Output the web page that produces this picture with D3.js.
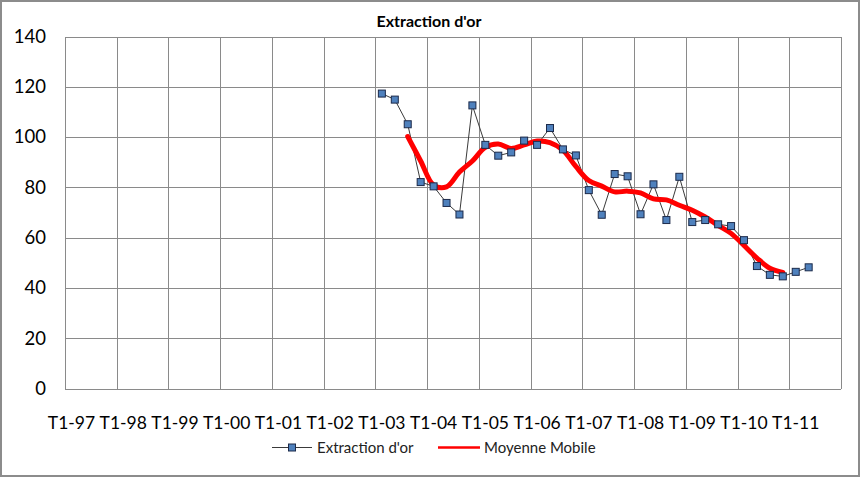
<!DOCTYPE html>
<html>
<head>
<meta charset="utf-8">
<script src="https://cdn.jsdelivr.net/npm/d3@7"></script>
<style>
  html, body { margin: 0; padding: 0; background: #fff; }
  svg { display: block; font-family: Lato, "Open Sans", sans-serif; }
</style>
</head>
<body>
<svg id="chart" width="861" height="478"></svg>
<script>
// ---- data ----
const years = ["97","98","99","00","01","02","03","04","05","06","07","08","09","10","11"];
const quarters = ["T1","T2","T3","T4"];
const categories = [];
years.forEach(y => quarters.forEach(q => categories.push(q + "-" + y)));

const yTicks = [0, 20, 40, 60, 80, 100, 120, 140];
const xTickLabels = years.map(y => "T1-" + y);

const extractionStart = "T1-03";
const extractionValues = [
  117.3, 114.9, 105.1, 82.1, 80.4, 73.8, 69.2, 112.6,
  96.9, 92.6, 93.9, 98.6, 96.9, 103.6, 95.1, 92.7,
  78.9, 69.1, 85.3, 84.4, 69.3, 81.2, 67.0, 84.2,
  66.2, 67.0, 65.3, 64.6, 59.0, 48.7, 45.2, 44.6,
  46.4, 48.2
];

const movingStart = "T3-03";
const movingValues = [
  100.2, 90.5, 80.9, 80.2, 86.1, 90.5, 95.9, 97.2,
  95.5, 96.9, 98.4, 97.8, 94.8, 88.3, 82.7, 80.5,
  78.2, 78.5, 77.8, 75.4, 75.0, 72.9, 70.9, 68.2,
  64.9, 61.7, 56.9, 51.9, 47.8, 46.2
];

const seriesNames = ["Extraction d'or", "Moyenne Mobile"];
const title = "Extraction d'or";

// ---- build records ----
const i0 = categories.indexOf(extractionStart);
const extraction = extractionValues.map((v, i) => ({ cat: categories[i0 + i], v }));
const j0 = categories.indexOf(movingStart);
const moving = movingValues.map((v, i) => ({ cat: categories[j0 + i], v }));

// ---- layout ----
const svg = d3.select("#chart");
const plot = { left: 65, right: 841, top: 36.5, bottom: 388.5 };

const x = d3.scaleBand().domain(categories).range([plot.left, plot.right]).padding(0);
const y = d3.scaleLinear().domain([0, 140]).range([plot.bottom, plot.top]);
const cx = c => x(c) + x.bandwidth() / 2;

// outer frame
svg.append("rect")
  .attr("x", 1).attr("y", 1).attr("width", 858).attr("height", 475)
  .attr("fill", "#fff").attr("stroke", "#8c8c8c").attr("stroke-width", 2);

// gridlines
const grid = svg.append("g").attr("stroke", "#8a8a8a").attr("stroke-width", 1).attr("shape-rendering", "crispEdges");
grid.selectAll("line.h").data(yTicks).join("line")
  .attr("x1", plot.left).attr("x2", plot.right)
  .attr("y1", d => Math.round(y(d)) + 0.5).attr("y2", d => Math.round(y(d)) + 0.5);
const vLines = categories.filter((c, i) => i % 4 === 0).map(c => x(c)).concat([plot.right]);
grid.selectAll("line.v").data(vLines).join("line")
  .attr("x1", d => Math.round(d) + 0.5).attr("x2", d => Math.round(d) + 0.5)
  .attr("y1", plot.top).attr("y2", plot.bottom);

// axes
const yAxis = svg.append("g")
  .attr("transform", `translate(${plot.left - 19},0)`)
  .call(d3.axisLeft(y).tickValues(yTicks).tickSize(0).tickPadding(0));
yAxis.select(".domain").remove();
yAxis.selectAll("text").attr("font-size", 18.5).attr("fill", "#000")
  .attr("font-family", "Lato, sans-serif");

const xAxis = svg.append("g")
  .attr("transform", `translate(0,${plot.bottom})`)
  .call(d3.axisBottom(x).tickValues(xTickLabels).tickSize(0).tickPadding(28));
xAxis.select(".domain").remove();
xAxis.selectAll("text").attr("font-size", 17.5).attr("fill", "#000")
  .attr("font-family", "Lato, sans-serif");

// title
svg.append("text")
  .attr("x", 429).attr("y", 27).attr("text-anchor", "middle")
  .attr("font-size", 16).attr("font-weight", "bold").attr("fill", "#000")
  .text(title);

// extraction line
const line = d3.line().x(d => cx(d.cat)).y(d => y(d.v));
svg.append("path").datum(extraction)
  .attr("d", line).attr("fill", "none")
  .attr("stroke", "#3a3a3a").attr("stroke-width", 1);

// moving average (smoothed)
const smooth = d3.line().x(d => cx(d.cat)).y(d => y(d.v)).curve(d3.curveCatmullRom.alpha(0.5));
svg.append("path").datum(moving)
  .attr("d", smooth).attr("fill", "none")
  .attr("stroke", "#ff0000").attr("stroke-width", 5)
  .attr("stroke-linejoin", "round").attr("stroke-linecap", "round");

// markers
const ms = 7;
svg.append("g").selectAll("rect").data(extraction).join("rect")
  .attr("x", d => cx(d.cat) - ms / 2).attr("y", d => y(d.v) - ms / 2)
  .attr("width", ms).attr("height", ms)
  .attr("fill", "#4f81bd").attr("stroke", "#1c2a4a").attr("stroke-width", 1);

// legend
const lg = svg.append("g").attr("font-size", 15).attr("fill", "#222");
lg.append("line").attr("x1", 272).attr("x2", 312).attr("y1", 447.5).attr("y2", 447.5)
  .attr("stroke", "#3a3a3a").attr("stroke-width", 1);
lg.append("rect").attr("x", 292 - ms / 2).attr("y", 447.5 - ms / 2).attr("width", ms).attr("height", ms)
  .attr("fill", "#4f81bd").attr("stroke", "#1c2a4a").attr("stroke-width", 1);
lg.append("text").attr("x", 317).attr("y", 452.5).text(seriesNames[0]);
lg.append("line").attr("x1", 438).attr("x2", 480).attr("y1", 447.5).attr("y2", 447.5)
  .attr("stroke", "#ff0000").attr("stroke-width", 2.5);
lg.append("text").attr("x", 484).attr("y", 452.5).text(seriesNames[1]);
</script>
</body>
</html>
